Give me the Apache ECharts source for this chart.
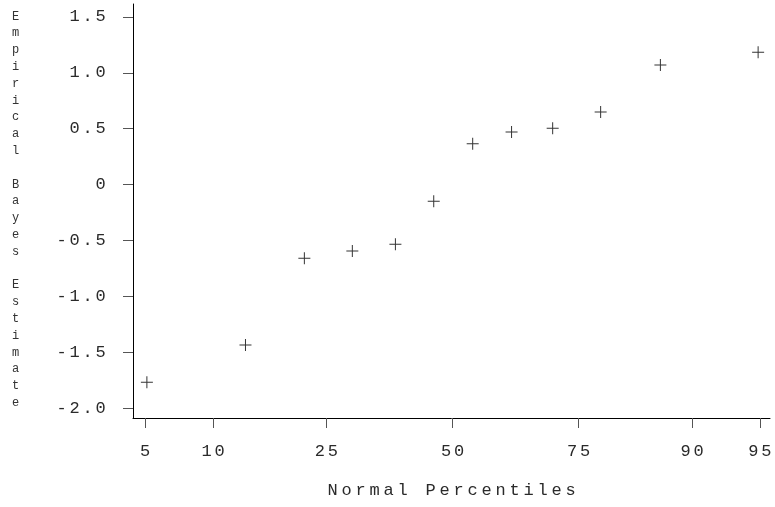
<!DOCTYPE html>
<html>
<head>
<meta charset="utf-8">
<script src="https://cdn.jsdelivr.net/npm/echarts@6/dist/echarts.min.js"></script>
<style>
  html, body { margin: 0; padding: 0; background: #fff; }
  #chart { width: 775px; height: 507px; }
</style>
</head>
<body>
<div id="chart"></div>
<script>
// percentiles of each point on the normal axis
const pointPct = [5.1, 13.4, 21.4, 29.6, 38.0, 46.0, 54.3, 62.4, 70.4, 78.6, 86.7, 94.9];
const estimates = [-1.77, -1.435, -0.66, -0.595, -0.535, -0.15, 0.365, 0.47, 0.505, 0.65, 1.07, 1.185];

const xTickPct = [5, 10, 25, 50, 75, 90, 95];
const yTicks = [-2.0, -1.5, -1.0, -0.5, 0, 0.5, 1.0, 1.5];

const yTitle = "Empirical Bayes Estimate";
const xTitle = "Normal Percentiles";

// inverse normal cdf (Acklam)
function qnorm(p) {
  const a = [-39.69683028665376, 220.9460984245205, -275.9285104469687, 138.3577518672690, -30.66479806614716, 2.506628277459239];
  const b = [-54.47609879822406, 161.5858368580409, -155.6989798598866, 66.80131188771972, -13.28068155288572];
  const c = [-0.007784894002430293, -0.3223964580411365, -2.400758277161838, -2.549732539343734, 4.374664141464968, 2.938163982698783];
  const d = [0.007784695709041462, 0.3224671290700398, 2.445134137142996, 3.754408661907416];
  const pl = 0.02425;
  let q, r;
  if (p < pl) {
    q = Math.sqrt(-2 * Math.log(p));
    return (((((c[0]*q+c[1])*q+c[2])*q+c[3])*q+c[4])*q+c[5]) / ((((d[0]*q+d[1])*q+d[2])*q+d[3])*q+1);
  }
  if (p > 1 - pl) {
    q = Math.sqrt(-2 * Math.log(1 - p));
    return -(((((c[0]*q+c[1])*q+c[2])*q+c[3])*q+c[4])*q+c[5]) / ((((d[0]*q+d[1])*q+d[2])*q+d[3])*q+1);
  }
  q = p - 0.5;
  r = q * q;
  return (((((a[0]*r+a[1])*r+a[2])*r+a[3])*r+a[4])*r+a[5])*q / (((((b[0]*r+b[1])*r+b[2])*r+b[3])*r+b[4])*r+1);
}

// wide-spaced monospace text, one rich cell per character
function spread(s) {
  return s.split("").map(ch => "{c|" + ch + "}").join("");
}

const xTickZ = xTickPct.map(p => qnorm(p / 100));
const data = pointPct.map((p, i) => [qnorm(p / 100), estimates[i]]);

const font = "Liberation Mono";
const cell = { fontFamily: font, fontSize: 17, width: 13, align: "center", color: "#2a2a2a" };

const chart = echarts.init(document.getElementById("chart"));
chart.setOption({
  animation: false,
  backgroundColor: "#fff",
  grid: { left: 133, right: 5, top: 4, bottom: 89 },
  xAxis: {
    type: "value",
    min: -1.7095,
    max: 1.6988,
    name: spread(xTitle),
    nameLocation: "middle",
    nameGap: 64,
    nameTextStyle: { rich: { c: Object.assign({}, cell, { width: 14 }) } },
    axisLine: { onZero: false, lineStyle: { color: "#000", width: 1 } },
    axisTick: { length: 10, lineStyle: { color: "#555" }, customValues: xTickZ },
    axisLabel: {
      margin: 25,
      customValues: xTickZ,
      formatter: function (v) {
        let best = 0;
        xTickZ.forEach((z, i) => { if (Math.abs(z - v) < Math.abs(xTickZ[best] - v)) best = i; });
        return spread(String(xTickPct[best]));
      },
      rich: { c: cell }
    },
    splitLine: { show: false }
  },
  yAxis: {
    type: "value",
    min: -2.0895,
    max: 1.616,
    axisLine: { show: true, onZero: false, lineStyle: { color: "#000", width: 1 } },
    axisTick: { show: true, length: 10, lineStyle: { color: "#555" }, customValues: yTicks },
    axisLabel: {
      margin: 26,
      customValues: yTicks,
      formatter: v => spread(Math.abs(v) < 1e-9 ? "0" : v.toFixed(1)),
      rich: { c: cell }
    },
    splitLine: { show: false }
  },
  graphic: [{
    type: "text",
    left: 12,
    top: 8,
    style: {
      text: yTitle.split("").join("\n"),
      font: "12px " + font,
      lineHeight: 16.8,
      fill: "#333",
      align: "center"
    }
  }],
  series: [{
    type: "scatter",
    data: data,
    symbol: "path://M0,5.5H12V6.5H0Z M5.5,0H6.5V12H5.5Z",
    symbolSize: 12,
    itemStyle: { color: "#000" }
  }]
});
</script>
</body>
</html>
